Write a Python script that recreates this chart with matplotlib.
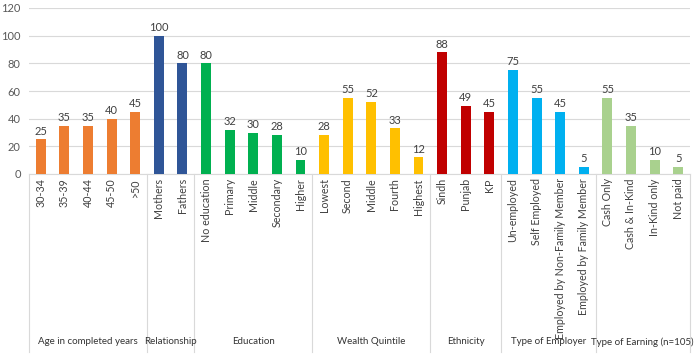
import matplotlib.pyplot as plt
import numpy as np

# data
groups = ['Age in completed years', 'Relationship', 'Education', 'Wealth Quintile',
          'Ethnicity', 'Type of Employer', 'Type of Earning (n=105)']
labels = [
    ['30-34', '35-39', '40-44', '45-50', '>50'],
    ['Mothers', 'Fathers'],
    ['No education', 'Primary', 'Middle', 'Secondary', 'Higher'],
    ['Lowest', 'Second', 'Middle', 'Fourth', 'Highest'],
    ['Sindh', 'Punjab', 'KP'],
    ['Un-employed', 'Self Employed', 'Employed by Non-Family Member', 'Employed by Family Member'],
    ['Cash Only', 'Cash & In-Kind', 'In-Kind only', 'Not paid'],
]
values = [
    [25, 35, 35, 40, 45],
    [100, 80],
    [80, 32, 30, 28, 10],
    [28, 55, 52, 33, 12],
    [88, 49, 45],
    [75, 55, 45, 5],
    [55, 35, 10, 5],
]
colors = ['#ED7D31', '#2F5597', '#00B050', '#FFC000', '#C00000', '#00B0F0', '#A9D18E']

plt.rcParams['font.family'] = ['Lato', 'DejaVu Sans']

fig = plt.figure(figsize=(7, 3.54), dpi=100)
ax = fig.add_axes([29/700, (354-174)/354, (690-29)/700, (174-8)/354])

pos = 0
bounds = [0]
for g in range(len(groups)):
    xs = np.arange(pos, pos + len(values[g]))
    ax.bar(xs, values[g], width=0.42, color=colors[g], zorder=3)
    for x, v in zip(xs, values[g]):
        ax.text(x, v + 2, str(v), ha='center', va='bottom', fontsize=8, color='#404040')
    pos += len(values[g])
    bounds.append(pos)

n = pos
ax.set_xlim(-0.5, n - 0.5)
ax.set_ylim(0, 120)
ax.set_yticks(range(0, 121, 20))
ax.tick_params(axis='y', length=0, labelsize=8, labelcolor='#595959', pad=6)
ax.set_xticks([])
ax.yaxis.grid(True, color='#D9D9D9', linewidth=0.8, zorder=0)
for s in ['top', 'right', 'left']:
    ax.spines[s].set_visible(False)
ax.spines['bottom'].set_color('#D9D9D9')

# multi-level category axis
trans = ax.get_xaxis_transform()
flat = [l for grp in labels for l in grp]
for i, lab in enumerate(flat):
    ax.text(i, -0.025, lab, rotation=90, ha='center', va='top', fontsize=7.7,
            color='#404040', transform=trans)
ybot = -(352 - 174) / 166
for b in bounds:
    ax.plot([b - 0.5, b - 0.5], [0, ybot], color='#D9D9D9', linewidth=0.8,
            transform=trans, clip_on=False)
ylab = -(342 - 174) / 166
for g in range(len(groups)):
    c = (bounds[g] + bounds[g + 1] - 1) / 2
    ax.text(c, ylab, groups[g], ha='center', va='center', fontsize=7,
            color='#333333', transform=trans)

fig.savefig('out.png', dpi=100)
